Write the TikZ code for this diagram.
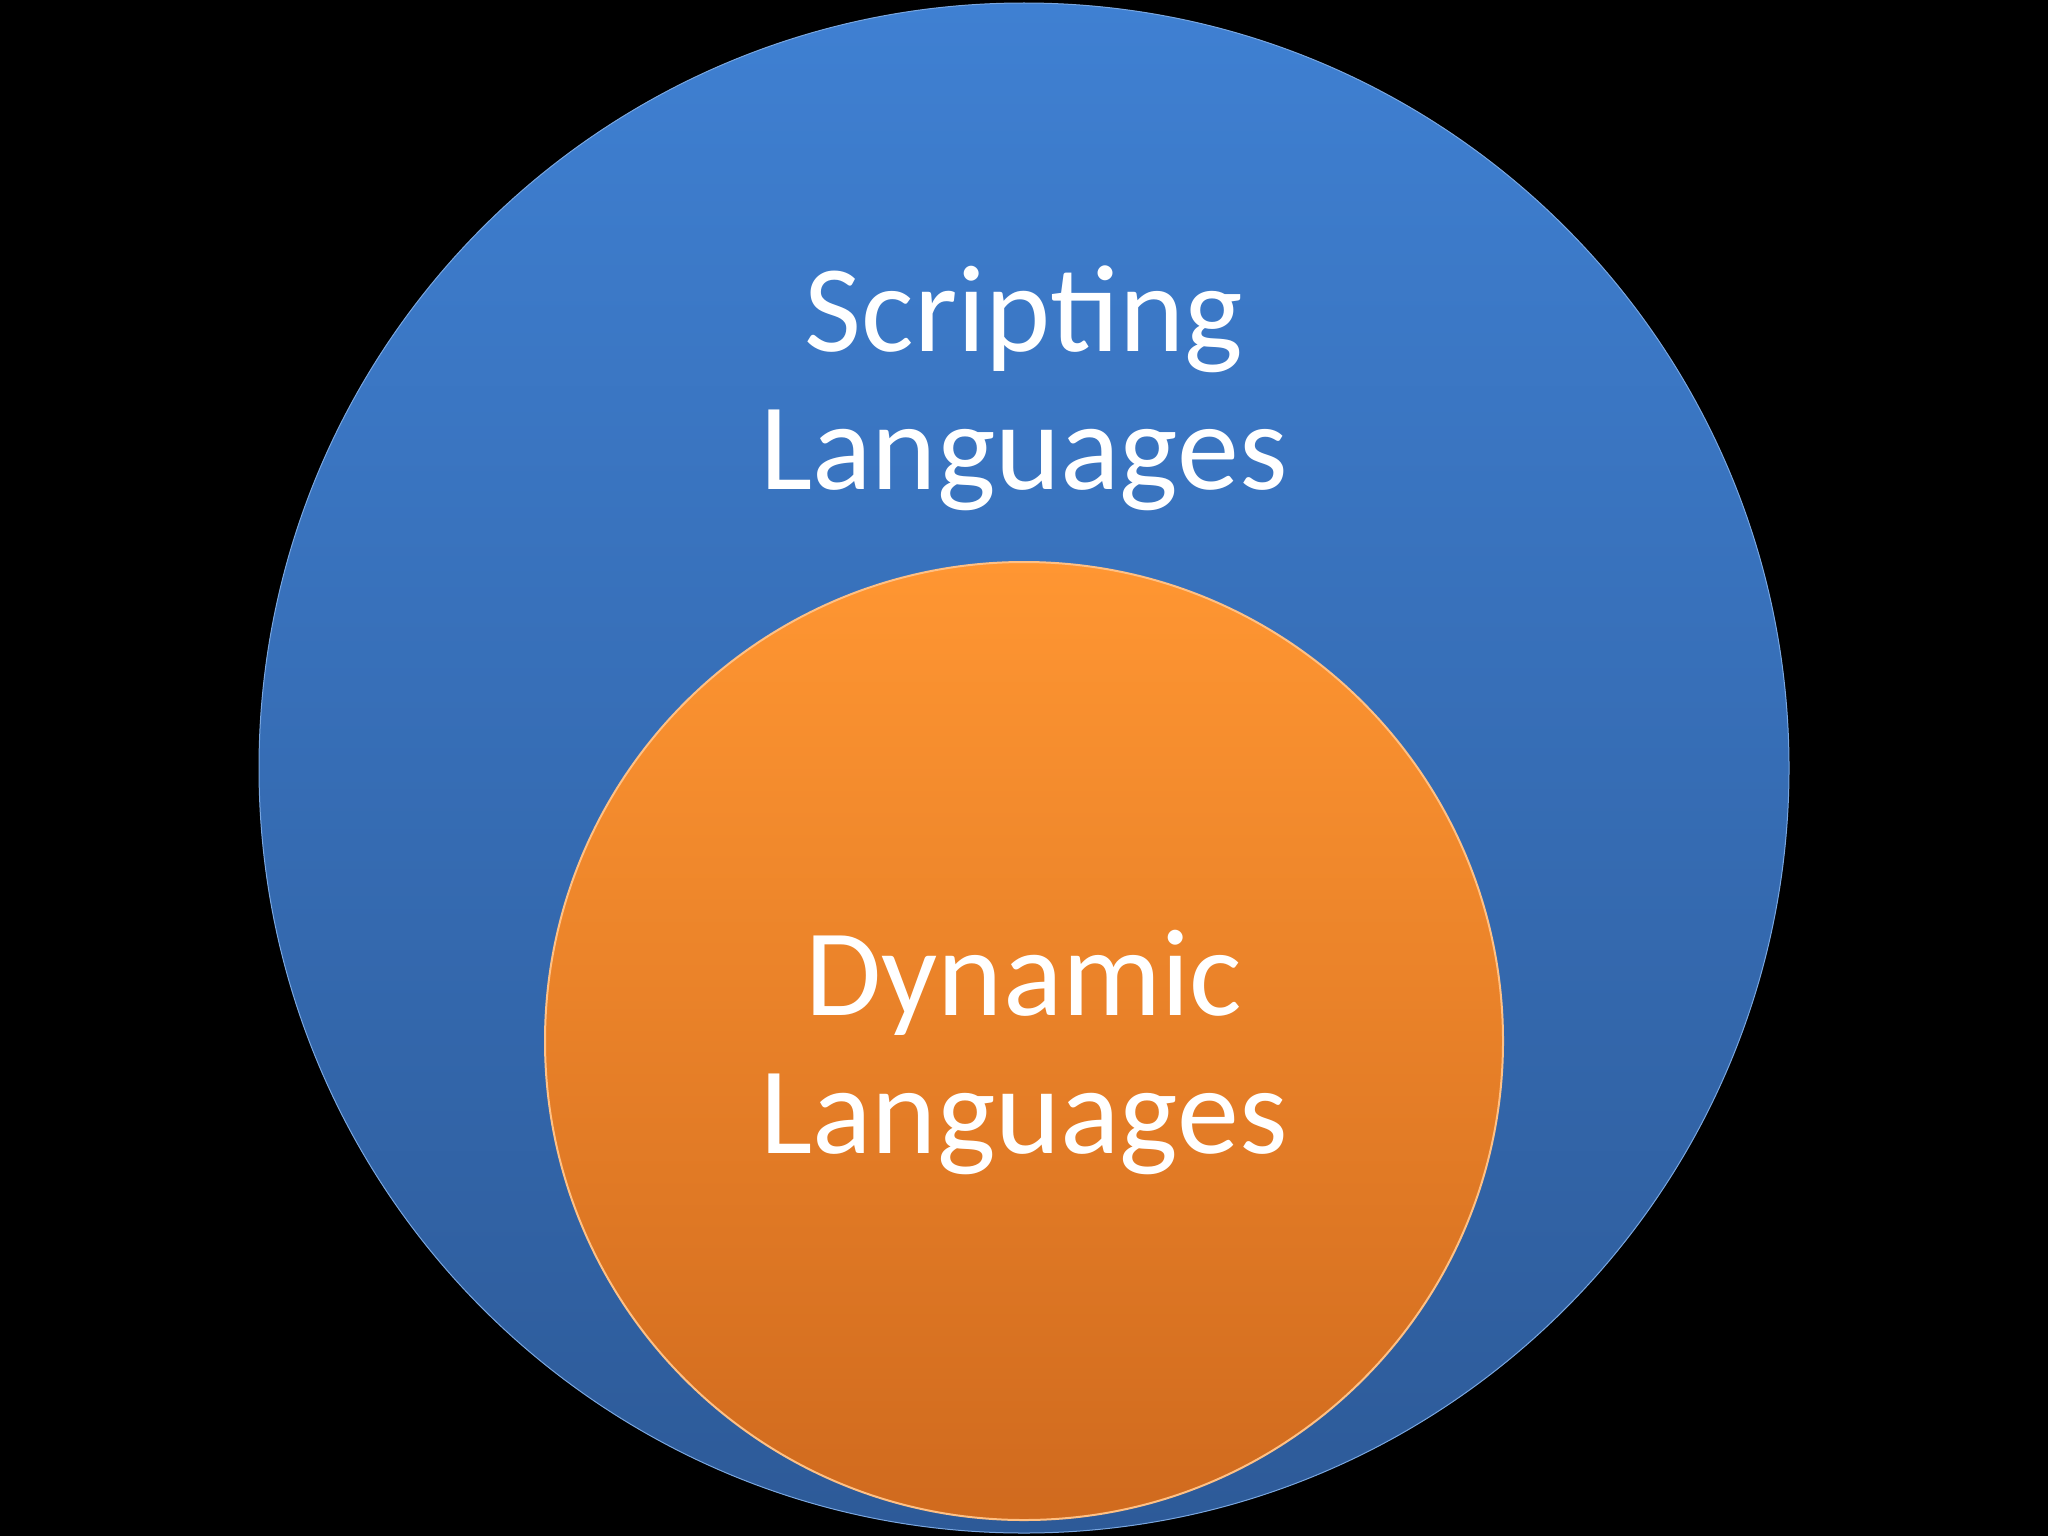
\documentclass[tikz,border=0pt]{standalone}
\usepackage{fontspec}
\setmainfont{Carlito}
\definecolor{btop}{HTML}{3F80D2}
\definecolor{bbot}{HTML}{2D5A98}
\definecolor{otop}{HTML}{FF9632}
\definecolor{obot}{HTML}{D06A1E}
\tikzset{lbl/.style={text=white,align=center,font=\fontsize{62}{69}\selectfont}}
\begin{document}
\begin{tikzpicture}[x=0.5pt,y=-0.5pt]
\fill[black] (0,0) rectangle (2048,1536);
\useasboundingbox (0,0) rectangle (2048,1536);
\node[circle,minimum size=1530*0.5pt,inner sep=0,top color=btop,bottom color=bbot,draw=btop!70!white,line width=0.5pt] (outer) at (1024,768) {};
\node[circle,minimum size=958*0.5pt,inner sep=0,top color=otop,bottom color=obot,draw=otop!60!white,line width=1pt] (inner) at (1024,1041) {};
\node[lbl] (script) at (1024,388) {Scripting\\Languages};
\node[lbl] (dyn) at (1024,1052) {Dynamic\\Languages};
\end{tikzpicture}
\end{document}
